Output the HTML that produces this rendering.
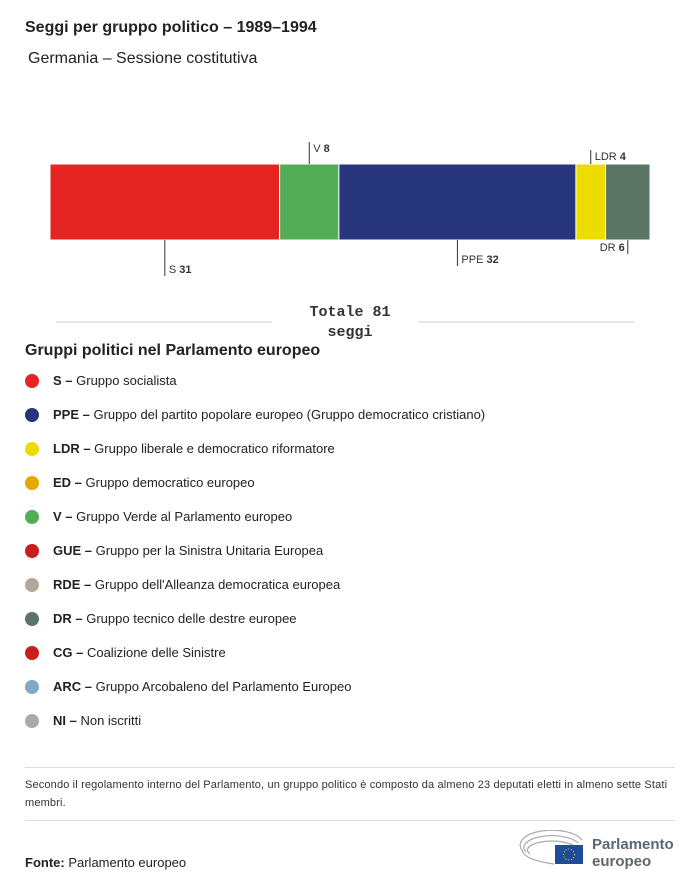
<!DOCTYPE html>
<html><head><meta charset="utf-8"><style>
body{margin:0;width:700px;height:888px;background:#fff;font-family:"Liberation Sans",sans-serif;color:#222;position:relative;overflow:hidden}
.a{position:absolute}
.lg{position:absolute;left:25px;font-size:13px;height:20px;line-height:20px}
.lg i{position:absolute;left:0;top:3px;width:14px;height:14px;border-radius:50%}
.lg span{position:absolute;left:28px;white-space:nowrap}
</style></head><body>
<div class="a" style="left:25px;top:19px;font-size:16px;font-weight:bold">Seggi per gruppo politico – 1989–1994</div>
<div class="a" style="left:28px;top:50px;font-size:16px">Germania – Sessione costitutiva</div>
<svg class="a" style="left:0;top:0" width="700" height="340">
<g id="bars"></g><g id="lbls"></g>
<line x1="56" y1="322" x2="272" y2="322" stroke="#ccc"/>
<line x1="418" y1="322" x2="634" y2="322" stroke="#ccc"/>
<text x="350" y="316" text-anchor="middle" font-family="Liberation Mono,monospace" font-weight="bold" font-size="15" fill="#333">Totale 81</text>
<text x="350" y="336" text-anchor="middle" font-family="Liberation Mono,monospace" font-weight="bold" font-size="15" fill="#333">seggi</text>
</svg>
<script>
const groups=["S","V","PPE","LDR","DR"];
const seats=[31,8,32,4,6];
const colors=["#e52521","#52ad56","#27357d","#ebdd00","#5a7466"];
const side=["below","above","below","above","below"];
const ldrop=[36,22,26,14,14];
const ns="http://www.w3.org/2000/svg";
const total=seats.reduce((a,b)=>a+b,0);
const X0=50,W=600,Y0=164,H=76;
const sx=v=>v/total*W;
let cum=0;
const bg=document.getElementById('bars'),lg=document.getElementById('lbls');
groups.forEach((g,i)=>{
 const x=X0+sx(cum),w=sx(seats[i]);cum+=seats[i];
 const r=document.createElementNS(ns,'rect');
 r.setAttribute('x',x);r.setAttribute('y',Y0);r.setAttribute('width',w);r.setAttribute('height',H);
 r.setAttribute('fill',colors[i]);r.setAttribute('stroke','#fff');r.setAttribute('stroke-width','1');
 
 
 bg.appendChild(r);
 const lx=x+w/2;
 const ln=document.createElementNS(ns,'line');
 const y1=side[i]=='below'?Y0+H:Y0-ldrop[i], y2=side[i]=='below'?Y0+H+ldrop[i]:Y0;
 ln.setAttribute('x1',lx);ln.setAttribute('x2',lx);ln.setAttribute('y1',y1);ln.setAttribute('y2',y2);ln.setAttribute('stroke','#333');
 lg.appendChild(ln);
 const t=document.createElementNS(ns,'text');
 t.setAttribute('font-size','11');t.setAttribute('fill','#333');
 if(i===4){t.setAttribute('x',lx-3);t.setAttribute('text-anchor','end');t.setAttribute('y',Y0+H+11);}
 else{t.setAttribute('x',lx+4);t.setAttribute('y',side[i]=='below'?Y0+H+ldrop[i]-3:Y0-ldrop[i]+10);}
 t.innerHTML=g+' <tspan font-weight="bold">'+seats[i]+'</tspan>';
 
 
 lg.appendChild(t);
});
</script>
<div class="a" style="left:25px;top:342px;font-size:16px;font-weight:bold">Gruppi politici nel Parlamento europeo</div>
<div class="lg" style="top:371px"><i style="background:#e52521"></i><span><b>S –</b> Gruppo socialista</span></div>
<div class="lg" style="top:405px"><i style="background:#27357d"></i><span><b>PPE –</b> Gruppo del partito popolare europeo (Gruppo democratico cristiano)</span></div>
<div class="lg" style="top:439px"><i style="background:#ebdd00"></i><span><b>LDR –</b> Gruppo liberale e democratico riformatore</span></div>
<div class="lg" style="top:473px"><i style="background:#e8a700"></i><span><b>ED –</b> Gruppo democratico europeo</span></div>
<div class="lg" style="top:507px"><i style="background:#52ad56"></i><span><b>V –</b> Gruppo Verde al Parlamento europeo</span></div>
<div class="lg" style="top:541px"><i style="background:#c81e1e"></i><span><b>GUE –</b> Gruppo per la Sinistra Unitaria Europea</span></div>
<div class="lg" style="top:575px"><i style="background:#b0a99a"></i><span><b>RDE –</b> Gruppo dell'Alleanza democratica europea</span></div>
<div class="lg" style="top:609px"><i style="background:#5a7466"></i><span><b>DR –</b> Gruppo tecnico delle destre europee</span></div>
<div class="lg" style="top:643px"><i style="background:#c81e1e"></i><span><b>CG –</b> Coalizione delle Sinistre</span></div>
<div class="lg" style="top:677px"><i style="background:#7fa9c4"></i><span><b>ARC –</b> Gruppo Arcobaleno del Parlamento Europeo</span></div>
<div class="lg" style="top:711px"><i style="background:#aaa"></i><span><b>NI –</b> Non iscritti</span></div>
<div class="a" style="left:25px;top:767px;width:650px;border-top:1px solid #ddd"></div>
<div class="a" style="left:25px;top:776px;width:650px;font-size:11px;line-height:18px;color:#333;letter-spacing:0.15px">Secondo il regolamento interno del Parlamento, un gruppo politico è composto da almeno 23 deputati eletti in almeno sette Stati membri.</div>
<div class="a" style="left:25px;top:820px;width:650px;border-top:1px solid #ddd"></div>
<div class="a" style="left:25px;top:855px;font-size:13px"><b>Fonte:</b> Parlamento europeo</div>
<svg class="a" style="left:518px;top:830px" width="70" height="36">
<g fill="none" stroke="#aaa" stroke-width="1.2"><path d="M4 20 A30 14 0 0 1 64 10"/><path d="M8 22 A26 11 0 0 1 60 13"/><path d="M12 24 A22 8 0 0 1 56 16"/><path d="M4 20 Q6 30 36 34"/></g>
<rect x="37" y="15" width="28" height="19" fill="#1f4b9b"/><circle cx="51" cy="24.5" r="5.5" fill="none" stroke="#f5d000" stroke-dasharray="1 1.8"/>
</svg>
<div class="a" style="left:592px;top:836px;font-size:15px;font-weight:bold;color:#5d6770;line-height:17px">Parlamento<br>europeo</div>
</body></html>
